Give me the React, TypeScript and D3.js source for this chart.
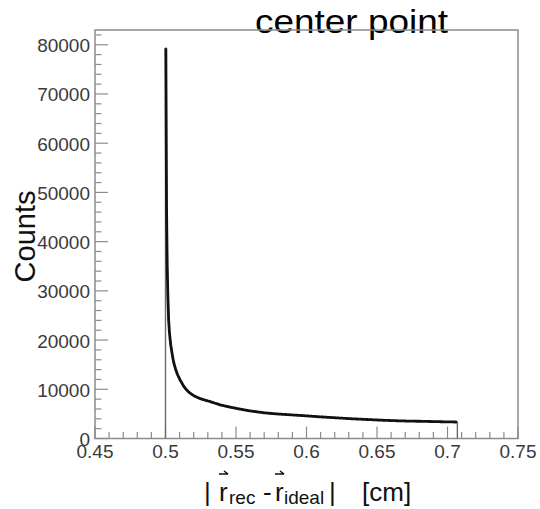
import React from "react";
import * as d3 from "d3";

// ---- data ----
const binStart = 0.5;
const binWidth = 0.0005;
const counts: number[] = [
  79300, 46500, 34300, 28200, 24000, 21700, 20200, 19000, 18000, 17100,
  16300, 15600, 15000, 14500, 14000, 13600, 13200, 12850, 12550, 12250,
  11950, 11700, 11450, 11200, 10950, 10700, 10500, 10300, 10100, 9950,
  9800, 9650, 9500, 9380, 9260, 9150, 9050, 8950, 8860, 8770,
  8680, 8600, 8530, 8460, 8390, 8330, 8270, 8210, 8150, 8100,
  8040, 8010, 7950, 7920, 7870, 7820, 7790, 7730, 7700, 7650,
  7620, 7570, 7540, 7500, 7440, 7410, 7350, 7300, 7270, 7210,
  7160, 7120, 7060, 7030, 6970, 6930, 6880, 6830, 6800, 6770,
  6730, 6710, 6670, 6640, 6600, 6580, 6540, 6510, 6480, 6440,
  6420, 6380, 6350, 6330, 6290, 6270, 6230, 6210, 6170, 6150,
  6120, 6090, 6060, 6030, 6010, 5970, 5950, 5920, 5900, 5870,
  5850, 5820, 5790, 5780, 5740, 5720, 5690, 5670, 5640, 5620,
  5600, 5580, 5570, 5540, 5530, 5500, 5490, 5460, 5450, 5420,
  5410, 5380, 5370, 5340, 5330, 5300, 5290, 5260, 5250, 5230,
  5220, 5200, 5190, 5160, 5150, 5140, 5130, 5110, 5110, 5090,
  5080, 5070, 5060, 5040, 5040, 5020, 5010, 5000, 4990, 4980,
  4970, 4960, 4950, 4940, 4930, 4920, 4920, 4900, 4900, 4890,
  4880, 4870, 4860, 4850, 4840, 4830, 4820, 4810, 4800, 4790,
  4780, 4770, 4760, 4750, 4740, 4730, 4720, 4710, 4700, 4700,
  4690, 4680, 4670, 4660, 4650, 4640, 4630, 4620, 4610, 4600,
  4590, 4580, 4570, 4560, 4550, 4540, 4530, 4520, 4510, 4500,
  4490, 4480, 4470, 4460, 4450, 4440, 4430, 4420, 4410, 4400,
  4390, 4380, 4370, 4370, 4360, 4350, 4340, 4330, 4320, 4310,
  4300, 4300, 4290, 4280, 4270, 4260, 4250, 4240, 4230, 4230,
  4220, 4210, 4200, 4190, 4180, 4170, 4160, 4150, 4140, 4130,
  4130, 4120, 4110, 4100, 4090, 4080, 4070, 4060, 4050, 4050,
  4040, 4030, 4020, 4010, 4000, 4000, 3990, 3980, 3980, 3970,
  3960, 3960, 3950, 3940, 3940, 3930, 3920, 3920, 3910, 3900,
  3900, 3890, 3880, 3880, 3870, 3860, 3860, 3850, 3840, 3840,
  3830, 3820, 3820, 3810, 3800, 3800, 3790, 3780, 3780, 3770,
  3760, 3760, 3750, 3740, 3740, 3730, 3720, 3720, 3710, 3700,
  3700, 3690, 3690, 3680, 3680, 3670, 3670, 3660, 3660, 3650,
  3650, 3640, 3640, 3630, 3630, 3620, 3620, 3610, 3610, 3600,
  3600, 3600, 3590, 3590, 3580, 3580, 3570, 3570, 3570, 3560,
  3560, 3550, 3550, 3550, 3540, 3540, 3540, 3530, 3530, 3530,
  3520, 3520, 3520, 3520, 3510, 3510, 3510, 3510, 3510, 3510,
  3510, 3500, 3500, 3490, 3490, 3490, 3480, 3480, 3470, 3470,
  3470, 3460, 3460, 3460, 3450, 3450, 3450, 3440, 3440, 3440,
  3430, 3430, 3430, 3420, 3420, 3420, 3410, 3410, 3410, 3400,
  3400, 3400, 3400, 3390, 3390, 3390, 3390, 3380, 3380, 3380,
  3380, 3370, 3370, 3370, 3370, 3360, 3360, 3360, 3360, 3350,
  3350, 3350, 3340, 3320,
];

const xMajor = [0.45, 0.5, 0.55, 0.6, 0.65, 0.7, 0.75];
const xTickLabels = ["0.45", "0.5", "0.55", "0.6", "0.65", "0.7", "0.75"];
const yMajor = [0, 10000, 20000, 30000, 40000, 50000, 60000, 70000, 80000];
const yTickLabels = ["0", "10000", "20000", "30000", "40000", "50000", "60000", "70000", "80000"];
const titleText = "center point";
const yTitle = "Counts";

const FONT = "'Liberation Sans', Arial, Helvetica, sans-serif";

export default function App() {
  const W = 540, H = 509;
  const left = 95, right = 518, top = 30, bottom = 438.5;
  const x = d3.scaleLinear().domain([0.45, 0.75]).range([left, right]);
  const y = d3.scaleLinear().domain([0, 83000]).range([bottom, top]);

  const xMinor = d3.range(0, 31).map((i) => 0.45 + i * 0.01);
  const yMinor = d3.range(0, 42).map((i) => i * 2000);

  const end = binStart + counts.length * binWidth;
  const stepPts: [number, number][] = [
    [binStart, 0],
    ...counts.map((c, i) => [binStart + i * binWidth, c] as [number, number]),
    [end, counts[counts.length - 1]],
    [end, 0],
  ];
  const stepLine = d3
    .line<[number, number]>()
    .x((d) => x(d[0]))
    .y((d) => y(d[1]))
    .curve(d3.curveStepAfter);
  const centerLine = d3
    .line<number>()
    .x((_, i) => x(binStart + (i + 0.5) * binWidth))
    .y((d) => y(d));

  const gray = "#8c8c8c";
  const arrow = (ax: number, ay: number) =>
    `M${ax},${ay} L${ax + 9},${ay} M${ax + 9},${ay} L${ax + 5},${ay - 3}`;

  return (
    <svg
      width={W}
      height={H}
      style={{ position: "absolute", left: 0, top: 0, background: "#fff" }}
      fontFamily={FONT}
    >
      <rect x={0} y={0} width={W} height={H} fill="#fff" />
      {/* title */}
      <text x={255} y={33} fontSize={34} fill="#000" textLength={193} lengthAdjust="spacingAndGlyphs">
        {titleText}
      </text>
      {/* frame */}
      <rect x={left} y={top} width={right - left} height={bottom - top} fill="none" stroke={gray} strokeWidth={1.5} />

      {/* y ticks */}
      {yMinor
        .filter((v) => y(v) >= top)
        .map((v) => (
          <line key={"ym" + v} x1={left} x2={left + (v % 10000 === 0 ? 13 : 6.5)} y1={y(v)} y2={y(v)} stroke={gray} strokeWidth={1.2} />
        ))}
      {/* x ticks */}
      {xMinor.map((v, i) => (
        <line key={"xm" + i} x1={x(v)} x2={x(v)} y1={bottom} y2={bottom - (i % 5 === 0 ? 12 : 6.5)} stroke={gray} strokeWidth={1.2} />
      ))}

      {/* histogram */}
      <path d={stepLine(stepPts) || ""} fill="none" stroke="#6a6a6a" strokeWidth={1.4} />
      <path d={centerLine(counts) || ""} fill="none" stroke="#111" strokeWidth={2.8} strokeLinejoin="round" />

      {/* tick labels */}
      {yMajor.map((v, i) => (
        <text key={"yl" + v} x={90} y={y(v) + 7.5} fontSize={19} textAnchor="end" fill="#3a3a3a">
          {yTickLabels[i]}
        </text>
      ))}
      {xMajor.map((v, i) => (
        <text key={"xl" + v} x={x(v)} y={458} fontSize={19} textAnchor="middle" fill="#3a3a3a">
          {xTickLabels[i]}
        </text>
      ))}

      {/* y title */}
      <text transform="translate(35,236.5) rotate(-90)" fontSize={29} textAnchor="middle" fill="#111">
        {yTitle}
      </text>

      {/* x title */}
      <g fill="#111" fontSize={26}>
        <text x={204} y={501}>|</text>
        <text x={219} y={501}>r</text>
        <text x={229} y={504} fontSize={19}>rec</text>
        <text x={263} y={501}>-</text>
        <text x={275} y={501}>r</text>
        <text x={284} y={504} fontSize={19}>ideal</text>
        <text x={329} y={501}>|</text>
        <text x={362} y={501}>[cm]</text>
      </g>
      <path d={arrow(219, 474)} stroke="#111" strokeWidth={1.5} fill="none" />
      <path d={arrow(275, 474)} stroke="#111" strokeWidth={1.5} fill="none" />
    </svg>
  );
}
